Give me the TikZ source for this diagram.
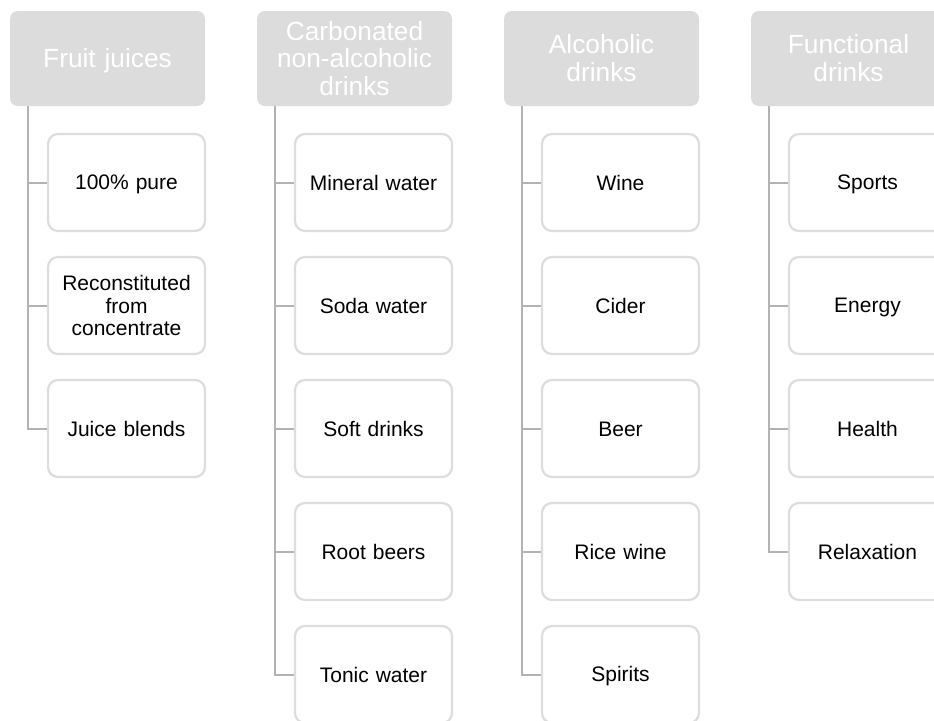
\documentclass[tikz,border=0pt]{standalone}
\usepackage{fontspec}
\setmainfont{Liberation Sans}
\usetikzlibrary{calc,positioning}
\definecolor{headgray}{HTML}{DCDCDC}
\definecolor{boxline}{HTML}{DDDDDD}
\definecolor{treeline}{HTML}{B3B3B3}
\newcommand{\boxstrut}{\rule[-0.165\baselineskip]{0pt}{\baselineskip}}

\begin{document}
\begin{tikzpicture}[x=1pt,y=-1pt,
    headbox/.style={fill=headgray,text=white,rounded corners=8pt,inner sep=0pt,
      minimum width=195pt,minimum height=95pt,text width=190pt,align=center,
      font=\fontsize{26.3}{27.5}\selectfont,
      execute at begin node=\boxstrut,execute at end node=\boxstrut},
    itembox/.style={draw=boxline,line width=2.2pt,fill=white,rounded corners=10pt,
      inner sep=0pt,minimum width=157pt,minimum height=97pt,text width=152pt,
      align=center,font=\fontsize{21}{22.5}\selectfont,
      execute at begin node=\boxstrut,execute at end node=\boxstrut},
    treelink/.style={treeline,line width=2pt}]
    \clip (0,0) rectangle (934,720);
    % column headers
    \node[headbox] (h1) at (107.5,58.5) {Fruit juices};
    \node[headbox] (h2) at (354.5,58.5) {Carbonated\\non-alcoholic\\drinks};
    \node[headbox] (h3) at (601.5,58.5) {Alcoholic\\drinks};
    \node[headbox] (h4) at (848.5,58.5) {Functional\\drinks};
    % entries under each header
    \foreach \t [count=\k] in {100\% pure,{Reconstituted\\from\\concentrate},Juice blends} {
      \node[itembox] (c1-\k) at (126.5,59.5+123*\k) {\t};
    }
    \foreach \t [count=\k] in {Mineral water,Soda water,Soft drinks,Root beers,Tonic water} {
      \node[itembox] (c2-\k) at (373.5,59.5+123*\k) {\t};
    }
    \foreach \t [count=\k] in {Wine,Cider,Beer,Rice wine,Spirits} {
      \node[itembox] (c3-\k) at (620.5,59.5+123*\k) {\t};
    }
    \foreach \t [count=\k] in {Sports,Energy,Health,Relaxation} {
      \node[itembox] (c4-\k) at (867.5,59.5+123*\k) {\t};
    }
    % tree lines
    \foreach \c/\n in {1/3,2/5,3/5,4/4} {
      \coordinate (t\c) at ($(h\c.south west)+(18,0)$);
      \foreach \k in {1,...,\n} {
        \draw[treelink] (t\c) |- (c\c-\k.west);
      }
    }
\end{tikzpicture}
\end{document}
